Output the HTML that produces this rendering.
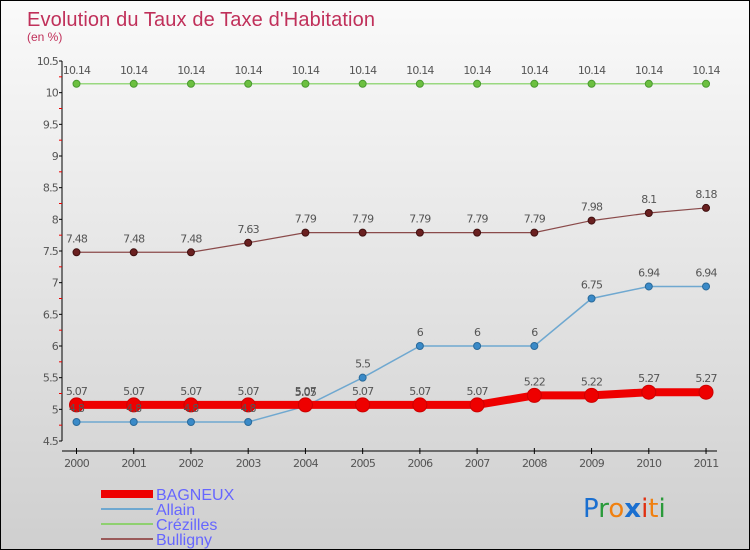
<!DOCTYPE html>
<html><head><meta charset="utf-8"><style>
body{margin:0;}
#wrap{width:748px;height:548px;border:1px solid #000;background:linear-gradient(#fafafa,#cfcfcf);position:relative;overflow:hidden;font-family:"DejaVu Sans","Liberation Sans",sans-serif;}
</style></head><body>
<div id="wrap">
<svg id="svg" width="748" height="548">
<text x="26" y="25" font-size="20" fill="#c0305a" style="font-family:'Liberation Sans',sans-serif;font-weight:normal" textLength="348">Evolution du Taux de Taxe d'Habitation</text>
<text x="26" y="40" font-size="12" fill="#c0305a" style="font-family:'Liberation Sans',sans-serif">(en %)</text>
<g id="axes"></g><g id="series"></g><g id="labels"></g>
<g style="font-family:'Liberation Sans',sans-serif">
<rect x="100" y="489" width="52" height="8" fill="#ee0000"/>
<text x="155" y="499" font-size="16" fill="#6666ff">BAGNEUX</text>
<rect x="100" y="507" width="52" height="2" fill="#6fa8d0"/>
<text x="155" y="514" font-size="16" fill="#6666ff">Allain</text>
<rect x="100" y="522" width="52" height="2" fill="#8fd070"/>
<text x="155" y="529" font-size="16" fill="#6666ff">Crézilles</text>
<rect x="100" y="537" width="52" height="2" fill="#9a5a5a"/>
<text x="155" y="544" font-size="16" fill="#6666ff">Bulligny</text>
</g>
<g font-size="26" font-family="'DejaVu Sans',sans-serif">
<text x="582" y="516"><tspan fill="#1a6fd0">P</tspan><tspan fill="#2a9a3a">r</tspan><tspan fill="#f08010">o</tspan><tspan fill="#1a6fd0" font-weight="bold">x</tspan><tspan fill="#e03010">i</tspan><tspan fill="#f08010">t</tspan><tspan fill="#2a9a3a">i</tspan></text>
</g>
</svg>
</div>
<script>
const years=["2000","2001","2002","2003","2004","2005","2006","2007","2008","2009","2010","2011"];
const bagneux=[5.07,5.07,5.07,5.07,5.07,5.07,5.07,5.07,5.22,5.22,5.27,5.27];
const allain=[4.8,4.8,4.8,4.8,5.05,5.5,6,6,6,6.75,6.94,6.94];
const crezilles=[10.14,10.14,10.14,10.14,10.14,10.14,10.14,10.14,10.14,10.14,10.14,10.14];
const bulligny=[7.48,7.48,7.48,7.63,7.79,7.79,7.79,7.79,7.79,7.98,8.1,8.18];
const yTicks=[4.5,5,5.5,6,6.5,7,7.5,8,8.5,9,9.5,10,10.5];
const NS="http://www.w3.org/2000/svg";
const X=i=>75.5+i*57.23;
const Y=v=>440-(v-4.5)/6*380;
function mk(tag,attrs,parent){const e=document.createElementNS(NS,tag);for(const k in attrs)e.setAttribute(k,attrs[k]);parent.appendChild(e);return e;}
const ax=document.getElementById('axes');
const lb=document.getElementById('labels');
let l=mk('line',{x1:61,y1:60,x2:61,y2:440,stroke:'#000','stroke-width':1},ax);


l=mk('line',{x1:61,y1:450,x2:716,y2:450,stroke:'#000','stroke-width':1},ax);


yTicks.forEach((v,i)=>{
  mk('line',{x1:58,y1:Y(v),x2:61,y2:Y(v),stroke:'#000'},ax);
  if(i<yTicks.length-1)mk('line',{x1:58,y1:Y(v+0.25),x2:61,y2:Y(v+0.25),stroke:'#e00'},ax);
  const t=mk('text',{x:57,y:Y(v)+4,'font-size':11,fill:'#555','text-anchor':'end','letter-spacing':'-0.8'},ax);
  t.textContent=String(v);
  
  
});
years.forEach((y,i)=>{
  mk('line',{x1:X(i),y1:447,x2:X(i),y2:453,stroke:'#000'},ax);
  const t=mk('text',{x:X(i),y:466,'font-size':11,fill:'#555','text-anchor':'middle','letter-spacing':'-0.8'},ax);
  t.textContent=y;
  
  
});
const sg=document.getElementById('series');
function series(name,data,color,w,r,dot,dotStroke){
  const g=mk('g',{},sg);
  
  
  mk('polyline',{points:data.map((v,i)=>X(i)+','+Y(v)).join(' '),fill:'none',stroke:color,'stroke-width':w},g);
  data.forEach((v,i)=>{
    const c=mk('circle',{cx:X(i),cy:Y(v),r:r,fill:dot,stroke:dotStroke,'stroke-width':1},g);
    
    
    const t=mk('text',{x:X(i),y:Y(v)-10,'font-size':11,fill:'#555','text-anchor':'middle','letter-spacing':'-0.8'},lb);
    t.textContent=String(v);
    
    
  });
}
series('crezilles',crezilles,'#9ad880',1.5,3.5,'#6cc040','#4a9a30');
series('bulligny',bulligny,'#8a4a4a',1.2,3.5,'#6a2020','#401010');
series('allain',allain,'#6fa8d0',1.5,3.5,'#3a8ac8','#2a6a9a');
series('bagneux',bagneux,'#ee0000',8,7,'#ee0000','#cc0000');
</script>
</body></html>
